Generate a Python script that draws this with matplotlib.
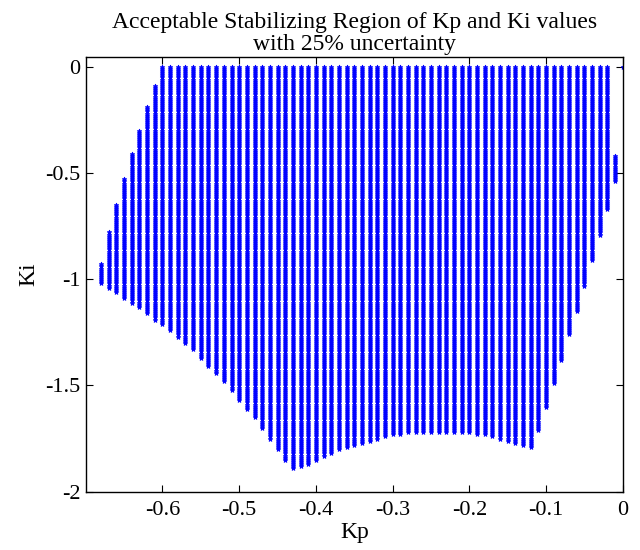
import numpy as np
import matplotlib
matplotlib.use('Agg')
import matplotlib.pyplot as plt

# Kp grid columns (step 0.01) and the Ki range found stable in each one
kp_cols = np.round(np.arange(-0.68, -0.005, 0.01), 2)
ki_upper = [-0.93, -0.78, -0.65, -0.53, -0.41, -0.30, -0.19, -0.09] + [0.0] * 59 + [-0.42]
ki_lower = [-1.02, -1.04, -1.06, -1.09, -1.11, -1.13, -1.16, -1.19,
            -1.21, -1.24, -1.27, -1.30, -1.33, -1.37, -1.41, -1.44, -1.48, -1.52,
            -1.57, -1.61, -1.65, -1.70, -1.75, -1.80, -1.85, -1.89, -1.88, -1.87,
            -1.85, -1.83, -1.82, -1.80, -1.79, -1.78, -1.77, -1.76, -1.75, -1.74,
            -1.73, -1.73, -1.72, -1.72, -1.72, -1.72, -1.72, -1.72, -1.72, -1.72,
            -1.72, -1.73, -1.73, -1.74, -1.75, -1.76, -1.77, -1.78, -1.79, -1.71,
            -1.60, -1.49, -1.38, -1.26, -1.15, -1.03, -0.91, -0.79, -0.67, -0.54]
ki_step = 0.01
# lone stable point at the origin
kp_single = [0.0]
ki_single = [0.0]

xticks = [-0.6, -0.5, -0.4, -0.3, -0.2, -0.1, 0]
xticklabels = ['-0.6', '-0.5', '-0.4', '-0.3', '-0.2', '-0.1', '0']
yticks = [-2, -1.5, -1, -0.5, 0]
yticklabels = ['-2', '-1.5', '-1', '-0.5', '0']

assert len(kp_cols) == len(ki_upper) == len(ki_lower)

kp_pts, ki_pts = [], []
for kp, hi, lo in zip(kp_cols, ki_upper, ki_lower):
    n = int(round((hi - lo) / ki_step)) + 1
    ki = hi - ki_step * np.arange(n)
    kp_pts.extend([kp] * n)
    ki_pts.extend(ki)
kp_pts.extend(kp_single)
ki_pts.extend(ki_single)

plt.rcParams['font.family'] = ['Liberation Serif', 'DejaVu Serif']

fig = plt.figure(figsize=(6.4, 5.5), dpi=100)
ax = fig.add_axes([0.134, 0.106, 0.839, 0.790])

ax.plot(kp_pts, ki_pts, linestyle='none', marker='*', markersize=3.5,
        color='#0000ff', markeredgewidth=0.6)

ax.set_xlim(-0.7, 0)
ax.set_ylim(-2, 0.045)
ax.set_xticks(xticks)
ax.set_xticklabels(xticklabels)
ax.set_yticks(yticks)
ax.set_yticklabels(yticklabels)
ax.tick_params(direction='in', top=True, right=True, length=5, width=0.8,
               labelsize=16)
ax.tick_params(axis='x', pad=7)
ax.tick_params(axis='y', pad=4)
for s in ax.spines.values():
    s.set_linewidth(1.0)

ax.set_xlabel('Kp', fontsize=17, labelpad=1)
ax.set_ylabel('Ki', fontsize=17, labelpad=4)
ax.set_title('Acceptable Stabilizing Region of Kp and Ki values\nwith 25% uncertainty',
             fontsize=17, linespacing=1.05, pad=5)

fig.savefig('out.png', dpi=100)
